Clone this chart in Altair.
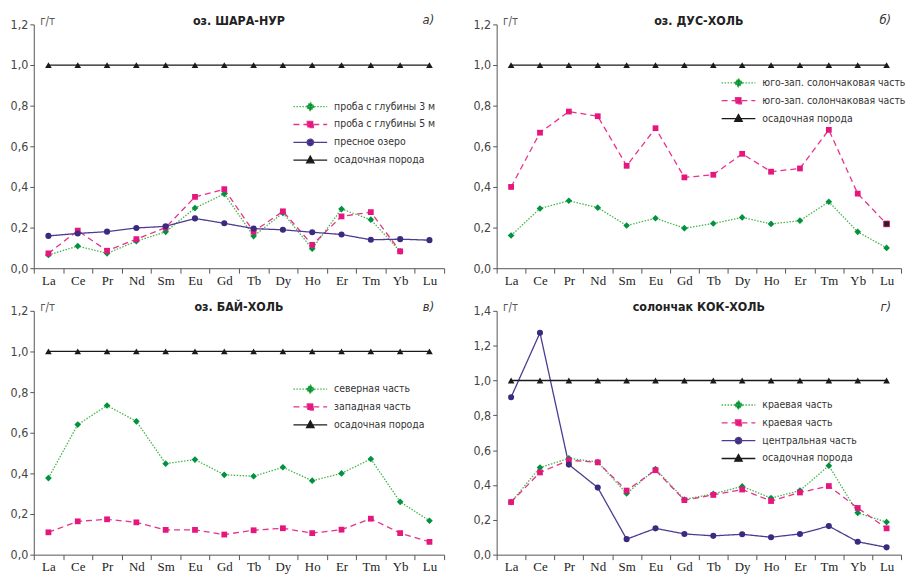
import altair as alt
import pandas as pd

ELEMENTS = ["La", "Ce", "Pr", "Nd", "Sm", "Eu", "Gd", "Tb", "Dy", "Ho", "Er", "Tm", "Yb", "Lu"]
ROCK = [1.0, 1.0, 1.0, 1.0, 1.0, 1.0, 1.0, 1.0, 1.0, 1.0, 1.0, 1.0, 1.0, 1.0]
ROCK_LABEL = "осадочная порода"
UNIT = "г/т"

# panel а) оз. ШАРА-НУР
A_TITLE = "оз. ШАРА-НУР"
A_TAG = "а)"
A_LABELS = ["проба с глубины 3 м", "проба с глубины 5 м", "пресное озеро"]
A_GREEN = [0.065, 0.109, 0.073, 0.133, 0.179, 0.296, 0.366, 0.158, 0.272, 0.096, 0.291, 0.239, 0.083, None]
A_PINK = [0.073, 0.185, 0.086, 0.143, 0.200, 0.351, 0.389, 0.180, 0.280, 0.115, 0.255, 0.276, 0.083, None]
A_PURPLE = [0.159, 0.171, 0.180, 0.198, 0.206, 0.245, 0.221, 0.195, 0.189, 0.177, 0.166, 0.140, 0.143, 0.138]

# panel б) оз. ДУС-ХОЛЬ
B_TITLE = "оз. ДУС-ХОЛЬ"
B_TAG = "б)"
B_LABELS = ["юго-зап. солончаковая часть", "юго-зап. солончаковая часть"]
B_GREEN = [0.161, 0.294, 0.332, 0.298, 0.210, 0.246, 0.197, 0.220, 0.250, 0.218, 0.234, 0.327, 0.179, 0.100]
B_PINK = [0.400, 0.667, 0.771, 0.748, 0.504, 0.689, 0.447, 0.460, 0.563, 0.475, 0.491, 0.681, 0.367, 0.218]

# panel в) оз. БАЙ-ХОЛЬ
C_TITLE = "оз. БАЙ-ХОЛЬ"
C_TAG = "в)"
C_LABELS = ["северная часть", "западная часть"]
C_GREEN = [0.377, 0.640, 0.734, 0.656, 0.448, 0.468, 0.393, 0.386, 0.430, 0.364, 0.400, 0.471, 0.260, 0.167]
C_PINK = [0.110, 0.164, 0.174, 0.159, 0.122, 0.122, 0.099, 0.120, 0.130, 0.106, 0.123, 0.177, 0.106, 0.063]

# panel г) солончак КОК-ХОЛЬ
D_TITLE = "солончак КОК-ХОЛЬ"
D_TAG = "г)"
D_LABELS = ["краевая часть", "краевая часть", "центральная часть"]
D_GREEN = [0.302, 0.500, 0.553, 0.532, 0.351, 0.492, 0.317, 0.349, 0.392, 0.325, 0.368, 0.511, 0.240, 0.187]
D_PINK = [0.302, 0.472, 0.542, 0.530, 0.368, 0.485, 0.313, 0.343, 0.374, 0.308, 0.357, 0.394, 0.268, 0.151]
D_PURPLE = [0.904, 1.274, 0.517, 0.385, 0.089, 0.151, 0.119, 0.108, 0.117, 0.100, 0.119, 0.164, 0.074, 0.042]

SANS = "Liberation Sans Narrow, DejaVu Sans Condensed, Arial Narrow, Liberation Sans, sans-serif"
SERIF = "Liberation Serif, Times New Roman, serif"

STYLE = {
    "green": dict(line="#45b549", marker="#00923f", dash=[1.5, 1.5], shape="diamond", size=45,
                  legend="M-1,0H1M0,-0.25L0.25,0L0,0.25L-0.25,0Z"),
    "pink": dict(line="#e8318b", marker="#e5177f", dash=[6, 4], shape="square", size=34,
                 legend="M-1,0H1M-0.18,-0.18H0.18V0.18H-0.18Z"),
    "purple": dict(line="#4e3b8f", marker="#3b2a7e", dash=[1, 0], shape="circle", size=38,
                   legend="M-1,0H1M0.19,0A0.19,0.19 0 1,1 -0.19,0A0.19,0.19 0 1,1 0.19,0Z"),
    "black": dict(line="#1a1a1a", marker="#1a1a1a", dash=[1, 0], shape="triangle-up", size=45,
                  legend="M-1,0H1M0,-0.24L0.22,0.16L-0.22,0.16Z"),
}

W_LEFT, W_RIGHT, H = 414, 408, 246


def panel(title, tag, series, ymax, width, lx, ly, special=None):
    rows = []
    for key, label, kind, vals in series:
        for el, v in zip(ELEMENTS, vals):
            if v is not None:
                rows.append({"el": el, "v": v, "s": key})
    df = pd.DataFrame(rows)
    keys = [s[0] for s in series]

    label_expr = "''"
    for key, label, kind, vals in reversed(series):
        label_expr = f"datum.value == '{key}' ? '{label}' : " + label_expr

    x = alt.X("el:N", sort=ELEMENTS,
              scale=alt.Scale(type="band", domain=ELEMENTS, paddingInner=0, paddingOuter=0),
              bandPosition=0.5,
              axis=alt.Axis(title=None, labelAngle=0, tickBand="extent", labelFont=SERIF,
                            labelFontSize=13, labelColor="#222", tickSize=5, tickColor="#555",
                            domainColor="#555", labelPadding=1, grid=False))
    yvals = [round(i * 0.2, 1) for i in range(int(round(ymax / 0.2)) + 1)]
    y = alt.Y("v:Q", scale=alt.Scale(domain=[0, ymax], nice=False, zero=True),
              axis=alt.Axis(values=yvals, labelExpr="replace(format(datum.value, '.1f'), '.', ',')",
                            grid=False, tickSize=4, tickColor="#555", domainColor="#555",
                            labelFont=SANS, labelFontSize=12.5, labelColor="#444", labelPadding=2,
                            title=UNIT, titleAngle=0, titleAlign="left", titleBaseline="middle",
                            titleX=6, titleY=-3, titleFont=SANS, titleFontSize=11.5,
                            titleFontWeight="normal", titleColor="#555"))

    base = alt.Chart(df)
    layers = []
    for key, label, kind, vals in series:
        st = STYLE[kind]
        layers.append(base.transform_filter(alt.datum.s == key)
                      .mark_line(color=st["line"], strokeDash=st["dash"], strokeWidth=1.3)
                      .encode(x=x, y=y))
    for key, label, kind, vals in series:
        st = STYLE[kind]
        layers.append(base.transform_filter(alt.datum.s == key)
                      .mark_point(shape=st["shape"], filled=True, size=st["size"],
                                  color=st["marker"], opacity=1)
                      .encode(x=x, y=y))
    if special is not None:
        skey, sel, scol = special
        layers.append(base.transform_filter((alt.datum.s == skey) & (alt.datum.el == sel))
                      .mark_point(shape="square", filled=True, size=34, color=scol, opacity=1,
                                  stroke="#e5177f", strokeWidth=0.8)
                      .encode(x=x, y=y))

    legend = alt.Legend(title=None, orient="none", legendX=lx, legendY=ly, labelExpr=label_expr,
                        symbolSize=1156, symbolStrokeWidth=1.3, clipHeight=18, rowPadding=0,
                        labelFont=SANS, labelFontSize=10.5, labelColor="#333", labelOffset=6,
                        labelLimit=300)
    kinds = [s[2] for s in series]
    leg = (base.transform_filter("false")
           .mark_point(filled=True, opacity=1)
           .encode(
               x=x, y=y,
               fill=alt.Fill("s:N", scale=alt.Scale(domain=keys, range=[STYLE[k]["marker"] for k in kinds]), legend=legend),
               stroke=alt.Stroke("s:N", scale=alt.Scale(domain=keys, range=[STYLE[k]["line"] for k in kinds]), legend=legend),
               shape=alt.Shape("s:N", scale=alt.Scale(domain=keys, range=[STYLE[k]["legend"] for k in kinds]), legend=legend),
               strokeDash=alt.StrokeDash("s:N", scale=alt.Scale(domain=keys, range=[STYLE[k]["dash"] for k in kinds]), legend=legend),
           ))
    layers.append(leg)

    tag_layer = (alt.Chart(pd.DataFrame({"t": [tag]}))
                 .mark_text(font=SANS, fontSize=13, fontStyle="italic", color="#333", align="right",
                            baseline="middle")
                 .encode(text="t:N", x=alt.value(width - 10), y=alt.value(-4)))
    layers.append(tag_layer)

    return alt.layer(*layers).properties(
        width=width, height=H,
        title=alt.Title(title, font=SANS, fontSize=12.5, fontWeight="bold", color="#222",
                        anchor="middle", offset=-13, frame="group"))


pa = panel(A_TITLE, A_TAG, [("a1", A_LABELS[0], "green", A_GREEN), ("a2", A_LABELS[1], "pink", A_PINK),
                            ("a3", A_LABELS[2], "purple", A_PURPLE), ("a4", ROCK_LABEL, "black", ROCK)],
           1.2, W_LEFT, 261, 74)
pb = panel(B_TITLE, B_TAG, [("b1", B_LABELS[0], "green", B_GREEN), ("b2", B_LABELS[1], "pink", B_PINK),
                            ("b3", ROCK_LABEL, "black", ROCK)],
           1.2, W_RIGHT, 226, 50, special=("b2", "Lu", "#222"))
pc = panel(C_TITLE, C_TAG, [("c1", C_LABELS[0], "green", C_GREEN), ("c2", C_LABELS[1], "pink", C_PINK),
                            ("c3", ROCK_LABEL, "black", ROCK)],
           1.2, W_LEFT, 261, 70)
pd_ = panel(D_TITLE, D_TAG, [("d1", D_LABELS[0], "green", D_GREEN), ("d2", D_LABELS[1], "pink", D_PINK),
                             ("d3", D_LABELS[2], "purple", D_PURPLE), ("d4", ROCK_LABEL, "black", ROCK)],
            1.4, W_RIGHT, 226, 86)

indep = dict(fill="independent", stroke="independent", shape="independent", strokeDash="independent")
row1 = alt.hconcat(pa, pb, spacing=28).resolve_scale(**indep).resolve_legend(**indep)
row2 = alt.hconcat(pc, pd_, spacing=28).resolve_scale(**indep).resolve_legend(**indep)
chart = (alt.vconcat(row1, row2, spacing=14)
         .resolve_scale(**indep).resolve_legend(**indep)
         .configure_view(stroke=None)
         .properties(padding={"left": 2, "top": 4, "right": 0, "bottom": 0}, background="white"))

chart.save("out.html", embed_options={"renderer": "svg", "actions": False})
